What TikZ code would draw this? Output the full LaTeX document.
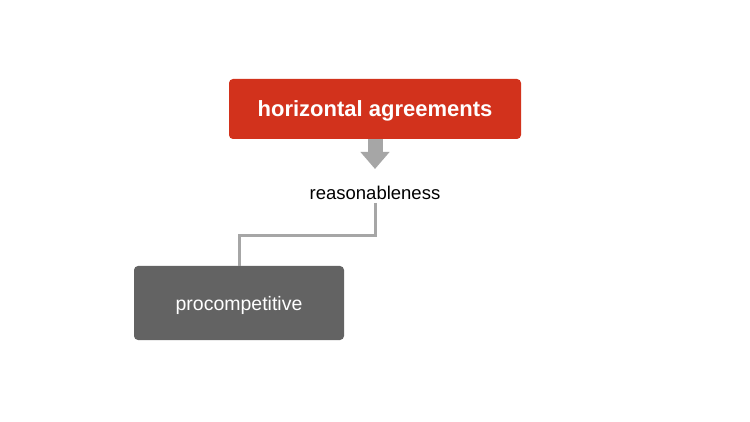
\documentclass[tikz,border=0pt]{standalone}
\usepackage{fontspec}
\setmainfont{Liberation Sans}
\usetikzlibrary{arrows.meta}
\definecolor{redbox}{HTML}{D2321C}
\definecolor{greybox}{HTML}{636363}
\definecolor{linegrey}{HTML}{A6A6A6}
\tikzset{
  box/.style={rounded corners=4pt, inner sep=0pt, text=white},
  conn/.style={draw=linegrey, line width=3pt},
}
\begin{document}
\begin{tikzpicture}[x=1pt,y=-1pt]
\useasboundingbox[fill=white] (0,0) rectangle (750,422);
\node[box, fill=redbox, minimum width=292pt, minimum height=60pt] (top) at (375,109) {};
\node[text=white, inner sep=0pt, font=\fontsize{22}{24}\selectfont\bfseries] (toptext) at (375,111) {horizontal agreements};
\node[inner sep=0pt, font=\fontsize{18.5}{20}\selectfont] (reas) at (375,193) {reasonableness};
\node[box, fill=greybox, minimum width=210pt, minimum height=74pt] (pro) at (239,303) {};
\node[text=white, inner sep=0pt, font=\fontsize{19.5}{22}\selectfont] (protext) at (239,305) {procompetitive};
\coordinate (tip) at (375,169);
\draw[draw=linegrey, line width=15pt, -{Triangle[width=28pt,length=17pt]}] (top.south) -- (tip);
\coordinate (bend) at (375,236);
\draw[conn] (reas.south) ++(0,3) |- (pro.north |- bend) -- (pro.north);
\end{tikzpicture}
\end{document}
